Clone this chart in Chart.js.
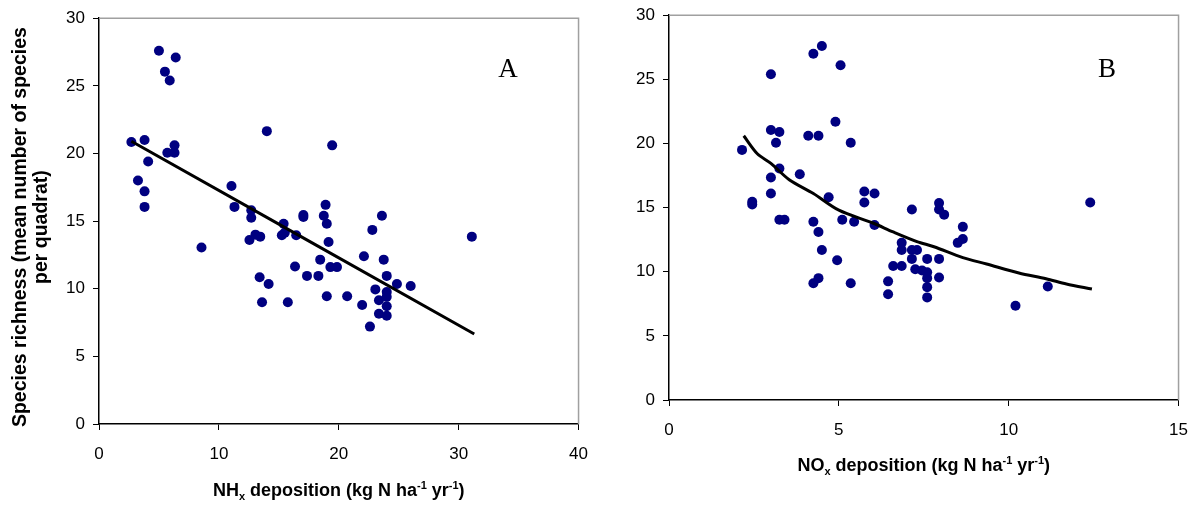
<!DOCTYPE html>
<html>
<head>
<meta charset="utf-8">
<script src="https://cdn.jsdelivr.net/npm/chart.js@4/dist/chart.umd.min.js"></script>
<style>
  html, body { margin: 0; padding: 0; background: #fff; overflow: hidden; }
  #wrap { position: relative; width: 1199px; height: 509px; overflow: hidden; }
  canvas { position: absolute; }
  #chart-a { left: 0; top: 0; }
  #chart-b { left: 600px; top: -3px; }
</style>
</head>
<body>
<div id="wrap">
  <canvas id="chart-a" width="602" height="509"></canvas>
  <canvas id="chart-b" width="602" height="512"></canvas>
</div>
<script>
// 面板 A: NHx 沉降
const nhxX = [2.7, 5.0, 6.4, 5.5, 5.9, 3.8, 6.3, 5.7, 6.3, 4.1, 3.25, 3.8, 3.8, 14.0, 11.05, 11.3, 12.7, 12.7,
  19.45, 15.4, 17.05, 17.05, 18.9, 18.75, 19.0, 23.6, 22.8, 31.1, 19.15, 18.45, 22.1, 23.75, 19.3, 19.85,
  17.35, 18.3, 24.0, 24.85, 26.0, 23.05, 24.0, 24.0, 23.35, 24.0, 19.0, 20.7, 21.95, 23.35, 24.0, 22.6,
  13.05, 13.45, 12.55, 15.25, 15.5, 16.45, 8.55, 16.35, 13.4, 14.15, 13.6, 15.75];
const nhxY = [20.85, 27.6, 27.1, 26.05, 25.4, 21.0, 20.6, 20.05, 20.05, 19.4, 18.0, 17.2, 16.05, 21.65, 17.6, 16.05, 15.8, 15.25,
  20.6, 14.8, 15.45, 15.3, 16.2, 15.4, 14.8, 15.4, 14.35, 13.85, 13.45, 12.15, 12.4, 12.15, 11.6, 11.6,
  10.95, 10.95, 10.95, 10.35, 10.2, 9.95, 9.75, 9.4, 9.15, 8.7, 9.45, 9.45, 8.8, 8.15, 8.0, 7.2,
  14.0, 13.85, 13.6, 13.95, 14.15, 13.95, 13.05, 11.65, 10.85, 10.35, 9.0, 9.0];
const trendAX = [2.7, 31.3];
const trendAY = [20.9, 6.65];

// 面板 B: NOx 沉降
const noxX = [2.15, 3.0, 3.0, 3.25, 3.15, 3.25, 3.0, 3.0, 2.45, 2.45, 3.25, 3.4, 4.25, 4.5, 5.05, 4.9, 4.1, 4.4,
  5.35, 3.85, 4.7, 5.75, 6.05, 5.75, 4.25, 5.1, 5.45, 6.05, 4.4, 4.5, 4.95, 4.25, 4.4, 5.35,
  7.15, 6.85, 6.85, 7.15, 7.3, 7.15, 6.85, 6.6, 7.25, 6.45, 6.45, 12.4, 7.95, 7.95, 8.1, 8.65,
  8.65, 8.5, 7.6, 7.95, 7.45, 7.6, 7.6, 7.95, 7.6, 7.6, 11.15, 10.2];
const noxY = [19.5, 25.4, 21.05, 20.9, 20.05, 18.05, 17.35, 16.1, 15.45, 15.25, 14.05, 14.05, 27.0, 27.6, 26.1, 21.7, 20.6, 20.6,
  20.05, 17.6, 15.8, 16.25, 16.1, 15.4, 13.9, 14.05, 13.9, 13.65, 13.1, 11.7, 10.9, 9.1, 9.5, 9.1,
  14.85, 12.25, 11.7, 11.7, 11.7, 11.0, 10.45, 10.45, 10.2, 9.25, 8.25, 15.4, 15.35, 14.85, 14.45, 13.5,
  12.55, 12.25, 11.0, 11.0, 10.1, 9.95, 9.5, 9.55, 8.8, 8.0, 8.85, 7.35];
const trendBX = [2.2, 2.6, 3.0, 3.55, 4.25, 5.0, 6.0, 6.6, 7.3, 7.8, 8.65, 9.35, 10.3, 11.1, 11.7, 12.45];
const trendBY = [20.6, 19.2, 18.45, 17.15, 16.1, 14.8, 13.8, 13.1, 12.35, 11.95, 11.1, 10.6, 9.9, 9.45, 9.05, 8.65];

const FONT = '"Liberation Sans", Arial, sans-serif';

function zip(xs, ys) {
  return xs.map((x, i) => ({ x, y: ys[i] }));
}

// 带上下标的文字
function drawRich(ctx, parts, cx, cy) {
  const big = 'bold 18px ' + FONT;
  const small = 'bold 11px ' + FONT;
  let total = 0;
  parts.forEach(p => {
    ctx.font = p[1] ? small : big;
    total += ctx.measureText(p[0]).width;
  });
  let x = cx - total / 2;
  ctx.textAlign = 'left';
  ctx.textBaseline = 'alphabetic';
  parts.forEach(p => {
    ctx.font = p[1] ? small : big;
    const dy = p[1] === 'sub' ? 4 : p[1] === 'sup' ? -7 : 0;
    ctx.fillText(p[0], x, cy + 6 + dy);
    x += ctx.measureText(p[0]).width;
  });
}

const decor = {
  id: 'decor',
  afterDraw(chart, args, opts) {
    const { ctx, chartArea: a } = chart;
    ctx.save();
    ctx.strokeStyle = '#a0a0a0';
    ctx.lineWidth = 1.5;
    ctx.beginPath();
    ctx.moveTo(a.left, a.top);
    ctx.lineTo(a.right, a.top);
    ctx.lineTo(a.right, a.bottom);
    ctx.stroke();

    ctx.fillStyle = '#000';
    ctx.font = '27px "Liberation Serif", "Times New Roman", serif';
    ctx.textAlign = 'center';
    ctx.textBaseline = 'middle';
    ctx.fillText(opts.letter, opts.letterX, opts.letterY);

    drawRich(ctx, opts.xTitle, (a.left + a.right) / 2, opts.xTitleY);

    if (opts.yTitle) {
      ctx.translate(0, (a.top + a.bottom) / 2 + 6);
      ctx.rotate(-Math.PI / 2);
      ctx.font = 'bold 19.5px ' + FONT;
      ctx.textAlign = 'center';
      ctx.textBaseline = 'middle';
      opts.yTitle.forEach((line, i) => ctx.fillText(line, 0, 21 + i * 21));
    }
    ctx.restore();
  }
};

function makeChart(id, cfg) {
  const tickFont = { family: FONT, size: 17 };
  return new Chart(document.getElementById(id), {
    type: 'scatter',
    data: {
      datasets: [
        {
          data: zip(cfg.trendX, cfg.trendY),
          showLine: true,
          borderColor: '#000',
          borderWidth: 3,
          pointRadius: 0,
          tension: 0.3
        },
        {
          data: zip(cfg.xs, cfg.ys),
          pointRadius: 5,
          pointHoverRadius: 5,
          pointBackgroundColor: '#000080',
          pointBorderColor: '#000080',
          pointBorderWidth: 0
        }
      ]
    },
    options: {
      responsive: false,
      animation: false,
      layout: { padding: { left: 0, right: 0, top: 0, bottom: 0 } },
      plugins: {
        legend: { display: false },
        tooltip: { enabled: false },
        decor: cfg.decor
      },
      scales: {
        x: {
          min: 0, max: cfg.xMax,
          afterFit: s => { s.height = cfg.xAxisH; },
          ticks: { stepSize: cfg.xStep, color: '#000', font: tickFont, padding: 14, maxRotation: 0 },
          grid: { drawOnChartArea: false, drawTicks: true, tickLength: 6, color: '#000' },
          border: { color: '#000', width: 1.5 }
        },
        y: {
          min: 0, max: 30,
          afterFit: s => { s.width = cfg.yAxisW; },
          ticks: { stepSize: 5, color: '#000', font: tickFont, padding: 8 },
          grid: { drawOnChartArea: false, drawTicks: true, tickLength: 6, color: '#000' },
          border: { color: '#000', width: 1.5 }
        }
      }
    },
    plugins: [decor]
  });
}

makeChart('chart-a', {
  xs: nhxX, ys: nhxY, trendX: trendAX, trendY: trendAY,
  xMax: 40, xStep: 10,
  xAxisH: 85, yAxisW: 99,
  decor: {
    letter: 'A', letterX: 508, letterY: 70,
    xTitleY: 490,
    xTitle: [['NH'], ['x', 'sub'], [' deposition (kg N ha'], ['-1', 'sup'], [' yr'], ['-1', 'sup'], [')']],
    yTitle: ['Species richness (mean number of species', 'per quadrat)']
  }
});

// 画布上移 3px，使绘图区顶部与参考图对齐
makeChart('chart-b', {
  xs: noxX, ys: noxY, trendX: trendBX, trendY: trendBY,
  xMax: 15, xStep: 5,
  xAxisH: 109, yAxisW: 69,
  decor: {
    letter: 'B', letterX: 507, letterY: 73,
    xTitleY: 468,
    xTitle: [['NO'], ['x', 'sub'], [' deposition (kg N ha'], ['-1', 'sup'], [' yr'], ['-1', 'sup'], [')']]
  }
});
</script>
</body>
</html>
